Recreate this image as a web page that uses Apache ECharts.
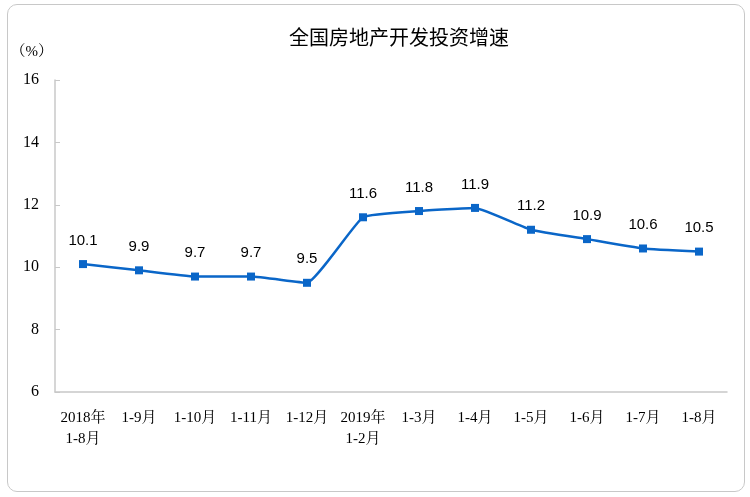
<!DOCTYPE html>
<html><head><meta charset="utf-8">
<script src="https://cdn.jsdelivr.net/npm/echarts@6/dist/echarts.min.js"></script>
<style>html,body{margin:0;padding:0;background:#fff}#c{width:750px;height:497px}
#frame{position:absolute;left:7px;top:4px;width:736px;height:486px;border:1.5px solid #c8c8c8;border-radius:10px;pointer-events:none}</style>
</head><body><div id="c"></div><div id="frame"></div>
<script>
const categories = ['2018年\n1-8月','1-9月','1-10月','1-11月','1-12月','2019年\n1-2月','1-3月','1-4月','1-5月','1-6月','1-7月','1-8月'];
const growth = [10.1, 9.9, 9.7, 9.7, 9.5, 11.6, 11.8, 11.9, 11.2, 10.9, 10.6, 10.5];
const yTicks = {min: 6, max: 16, interval: 2};
const tickFont = '"Liberation Serif", "Noto Serif CJK SC", "Noto Sans CJK SC", serif';
const chart = echarts.init(document.getElementById('c'));
chart.setOption({
  animation: false,
  title: {text: '全国房地产开发投资增速', left: 394, top: 22, textAlign: 'center',
    textStyle: {fontSize: 20, fontWeight: 'normal', color: '#000', fontFamily: '"Noto Sans CJK SC", sans-serif'}},
  grid: {left: 55, right: 23, top: 80, bottom: 105, containLabel: false},
  xAxis: {type: 'category', data: categories, boundaryGap: true,
    axisLine: {lineStyle: {color: '#c8c8c8', width: 1.5}},
    axisTick: {inside: true, length: 5, lineStyle: {color: '#c8c8c8'}},
    axisLabel: {color: '#000', fontSize: 15, fontFamily: tickFont, margin: 16, lineHeight: 21, interval: 0}},
  yAxis: {type: 'value', min: yTicks.min, max: yTicks.max, interval: yTicks.interval,
    name: '（%）', nameLocation: 'end', nameGap: 20,
    nameTextStyle: {color: '#000', fontSize: 15, fontFamily: tickFont, align: 'right', padding: [0, 2, 0, 0]},
    splitLine: {show: false},
    axisLine: {show: true, lineStyle: {color: '#c8c8c8', width: 1.5}},
    axisTick: {show: true, inside: true, length: 5, lineStyle: {color: '#c8c8c8'}},
    axisLabel: {color: '#000', fontSize: 16, fontFamily: tickFont, margin: 16}},
  series: [{type: 'line', data: growth, smooth: 0.12, symbol: 'rect', symbolSize: 8,
    lineStyle: {color: '#0a66c8', width: 2.5}, itemStyle: {color: '#0a66c8'},
    label: {show: true, position: 'top', distance: 12, color: '#000', fontSize: 15,
      fontFamily: '"Liberation Sans", Arial, sans-serif'}}]
});
</script></body></html>
